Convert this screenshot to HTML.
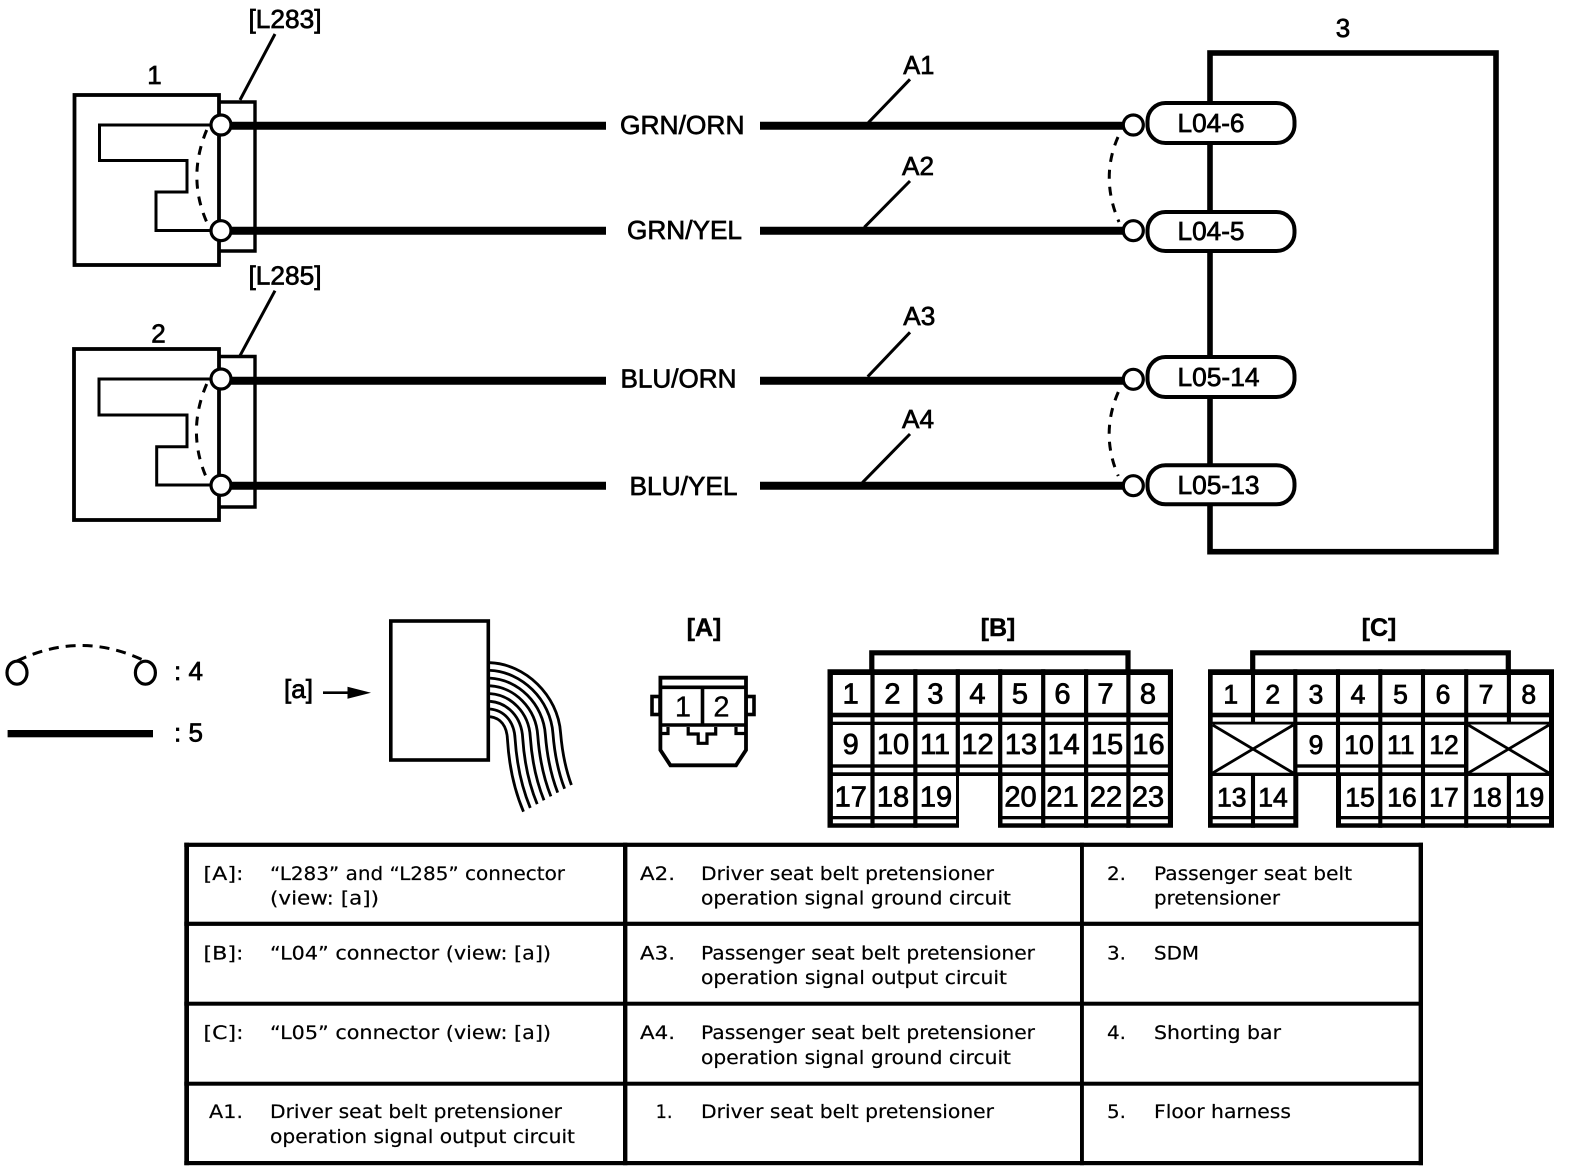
<!DOCTYPE html>
<html><head><meta charset="utf-8"><style>
html,body{margin:0;padding:0;background:#fff}
svg{display:block}
text{font-family:"Liberation Sans",sans-serif;fill:#000}
.l{font-size:26px;stroke:#000;stroke-width:.7px}
.b{font-size:29px;text-anchor:middle;stroke:#000;stroke-width:.8px}
.c{font-size:26.5px;text-anchor:middle;stroke:#000;stroke-width:.8px}
.h{font-size:25px;font-weight:bold;text-anchor:middle;stroke:#000;stroke-width:.4px}
.t{font-family:"DejaVu Sans",sans-serif;font-size:19px;fill:#000;stroke:#000;stroke-width:.2px}
.n{fill:none;stroke:#000}
.w{fill:#fff;stroke:#000}
</style></head><body>
<svg width="1584" height="1170" viewBox="0 0 1584 1170" xmlns="http://www.w3.org/2000/svg">
<rect width="1584" height="1170" fill="#fff"/>

<!-- Component 3 -->
<rect x="1210" y="53" width="286" height="498.7" class="n" stroke-width="5.6"/>

<!-- Component 1 -->
<path d="M220 102H255V251H220" class="n" stroke-width="3.4"/>
<rect x="74.5" y="95" width="144.5" height="170" class="n" stroke-width="3.8"/>
<path d="M212 125H99.5V160.5H187V192H156V230.5H212" class="n" stroke-width="3"/>
<path d="M206.7 130Q187 177 206.7 222" class="n" stroke-width="3" stroke-dasharray="9 8"/>
<path d="M275 34L240 100" class="n" stroke-width="3"/>

<!-- Component 2 -->
<path d="M220 356.5H255V507H220" class="n" stroke-width="3.4"/>
<rect x="74" y="349" width="145" height="171" class="n" stroke-width="3.8"/>
<path d="M212 379H99V415H187V446.7H156.7V485H212" class="n" stroke-width="3"/>
<path d="M206.7 384Q186.5 431 206 476.7" class="n" stroke-width="3" stroke-dasharray="9 8"/>
<path d="M275 290.7L240 355.7" class="n" stroke-width="3"/>

<!-- Thick wires -->
<g class="n" stroke-width="8">
<path d="M221 125.8H606M760 125.8H1125"/>
<path d="M221 230.8H606M760 230.8H1125"/>
<path d="M221 380.7H606M760 380.7H1125"/>
<path d="M221 485.8H606M760 485.8H1125"/>
</g>
<!-- Leaders -->
<g class="n" stroke-width="3">
<path d="M910 79.3L868.3 122.7"/>
<path d="M910 181L864.3 227.3"/>
<path d="M910 332.3L867.7 376.7"/>
<path d="M910 434L862.3 482.7"/>
</g>
<!-- Circles -->
<g class="w" stroke-width="3.2">
<circle cx="221" cy="125" r="10"/><circle cx="221" cy="230.7" r="10"/>
<circle cx="221" cy="379" r="10"/><circle cx="221" cy="485.3" r="10"/>
</g>
<!-- Pills -->
<g class="w" stroke-width="4">
<rect x="1147.5" y="103" width="147" height="40" rx="18"/>
<rect x="1147.5" y="212" width="147" height="39" rx="18"/>
<rect x="1147.5" y="357" width="147" height="40" rx="18"/>
<rect x="1147.5" y="465.3" width="147" height="39" rx="18"/>
</g>
<g class="w" stroke-width="3.2">
<circle cx="1133.3" cy="125" r="10"/><circle cx="1133.3" cy="230.7" r="10"/>
<circle cx="1133.3" cy="379.3" r="10"/><circle cx="1133.3" cy="485.7" r="10"/>
</g>
<g class="n" stroke-width="3" stroke-dasharray="9 8">
<path d="M1118 137Q1100 178 1119 222"/>
<path d="M1118.3 392Q1100 434 1118.3 476"/>
</g>

<!-- Top labels -->
<text class="l" x="248.5" y="28" textLength="73" lengthAdjust="spacingAndGlyphs">[L283]</text>
<text class="l" x="248.5" y="284.3" textLength="73" lengthAdjust="spacingAndGlyphs">[L285]</text>
<text class="l" x="154.5" y="84" text-anchor="middle">1</text>
<text class="l" x="158.5" y="342.3" text-anchor="middle">2</text>
<text class="l" x="1343" y="37" text-anchor="middle">3</text>
<text class="l" x="620" y="134" textLength="124.5" lengthAdjust="spacingAndGlyphs">GRN/ORN</text>
<text class="l" x="627" y="239" textLength="115" lengthAdjust="spacingAndGlyphs">GRN/YEL</text>
<text class="l" x="620.5" y="387.5" textLength="116" lengthAdjust="spacingAndGlyphs">BLU/ORN</text>
<text class="l" x="629.5" y="495" textLength="108" lengthAdjust="spacingAndGlyphs">BLU/YEL</text>
<text class="l" x="903.3" y="74" textLength="31" lengthAdjust="spacingAndGlyphs">A1</text>
<text class="l" x="902" y="175" textLength="32" lengthAdjust="spacingAndGlyphs">A2</text>
<text class="l" x="903.3" y="325" textLength="32" lengthAdjust="spacingAndGlyphs">A3</text>
<text class="l" x="902" y="428" textLength="32" lengthAdjust="spacingAndGlyphs">A4</text>
<text class="l" x="1177.5" y="132" textLength="67" lengthAdjust="spacingAndGlyphs">L04-6</text>
<text class="l" x="1177.5" y="240" textLength="67" lengthAdjust="spacingAndGlyphs">L04-5</text>
<text class="l" x="1177.5" y="386" textLength="82" lengthAdjust="spacingAndGlyphs">L05-14</text>
<text class="l" x="1177.5" y="494" textLength="82" lengthAdjust="spacingAndGlyphs">L05-13</text>

<!-- Legend -->
<ellipse cx="17" cy="672.7" rx="10" ry="11.5" class="n" stroke-width="3.2"/>
<ellipse cx="145.4" cy="672.7" rx="10" ry="11.5" class="n" stroke-width="3.2"/>
<path d="M17 661Q81 630 145 661" class="n" stroke-width="3" stroke-dasharray="10 7"/>
<text class="l" x="174" y="680">: 4</text>
<rect x="7.6" y="730" width="145.4" height="7.3" fill="#000"/>
<text class="l" x="174" y="741.7">: 5</text>

<!-- Connector view -->
<text class="l" x="284" y="698" textLength="29" lengthAdjust="spacingAndGlyphs">[a]</text>
<path d="M323 692.7H350" class="n" stroke-width="2.6"/>
<path d="M347.5 686.7L371 692.7L347.5 698.7Z" fill="#000"/>
<rect x="390.8" y="621" width="97.5" height="139" class="n" stroke-width="3.6"/>
<g class="n" stroke-width="2.8">
<path d="M490 662.7C525 664 558 695 560.6 733Q563 762 571.4 785"/>
<path d="M490 670.4C521.4 671.7 550.7 699.3 553 734Q555.4 764.6 564.6 788.8"/>
<path d="M490 678.1C517.9 679.4 543.4 703.6 545.4 735Q547.9 767.1 557.7 792.6"/>
<path d="M490 685.8C514.3 687.1 536.1 707.9 537.8 736Q540.3 769.7 550.9 796.4"/>
<path d="M490 693.6C510.7 694.9 528.9 712.1 530.3 737Q532.7 772.3 544 800.3"/>
<path d="M490 701.3C507.1 702.6 521.6 716.4 522.7 738Q525.1 774.9 537.2 804.1"/>
<path d="M490 709C503.6 710.3 514.3 720.7 515.1 739Q517.6 777.4 530.3 807.9"/>
<path d="M490 716.7C500 718 507 725 507.5 740Q510 780 523.5 811.7"/>
</g>

<!-- [A] -->
<text class="h" x="704" y="636">[A]</text>
<rect x="652" y="696.5" width="8" height="18" class="w" stroke-width="3.6"/>
<rect x="746" y="696.5" width="8" height="18" class="w" stroke-width="3.6"/>
<path d="M660.4 677.7H746V750L736 765.3H670.4L660.4 750Z" class="w" stroke-width="3.8"/>
<path d="M660 687.3H746M660 725H746M702.5 687V725" class="n" stroke-width="3.6"/>
<path d="M668 727V733.5H661M736 727V733.5H745M688.2 727V734H698.2V743.3H707V734H715.7V727" class="n" stroke-width="3.2"/>
<text class="b" x="683" y="716.7" style="stroke-width:.3px">1</text>
<text class="b" x="721.4" y="716.7" style="stroke-width:.3px">2</text>

<!-- [B] -->
<text class="h" x="998" y="636">[B]</text>
<path d="M871.8 669.5V652.8H1128V669.5" class="n" stroke-width="5.2"/>
<path d="M827.5 669.3H1173V827.7H998V776H959V827.7H827.5Z" fill="#000"/>
<g fill="#fff">
<rect x="832.9" y="675" width="335" height="37.7"/>
<rect x="832.9" y="717.3" width="335" height="4.4"/>
<rect x="832.9" y="725" width="335" height="39.3"/>
<rect x="832.9" y="767.7" width="335" height="4.6"/>
<rect x="832.9" y="776" width="123.1" height="40"/>
<rect x="1002.5" y="776" width="165.4" height="40"/>
<rect x="832.9" y="819.3" width="123.1" height="4"/>
<rect x="1002.5" y="819.3" width="165.4" height="4"/>
</g>
<path d="M872.5 669.3V827.7M915.35 669.3V827.7M957.8 669.3V776M1000.2 669.3V776M1043.2 669.3V827.7M1086.1 669.3V827.7M1128.4 669.3V827.7" class="n" stroke-width="4.2"/>
<text class="b" x="850.7" y="703.3">1</text><text class="b" x="892.5" y="703.3">2</text><text class="b" x="935.4" y="703.3">3</text><text class="b" x="977.5" y="703.3">4</text><text class="b" x="1020" y="703.3">5</text><text class="b" x="1062.5" y="703.3">6</text><text class="b" x="1105.5" y="703.3">7</text><text class="b" x="1148" y="703.3">8</text>
<text class="b" x="850.7" y="754">9</text><text class="b" x="893" y="754">10</text><text class="b" x="935" y="754">11</text><text class="b" x="977.5" y="754">12</text><text class="b" x="1021" y="754">13</text><text class="b" x="1063.5" y="754">14</text><text class="b" x="1107" y="754">15</text><text class="b" x="1148.5" y="754">16</text>
<text class="b" x="850.7" y="806.7">17</text><text class="b" x="893" y="806.7">18</text><text class="b" x="936" y="806.7">19</text><text class="b" x="1020.5" y="806.7">20</text><text class="b" x="1062.5" y="806.7">21</text><text class="b" x="1106" y="806.7">22</text><text class="b" x="1148" y="806.7">23</text>

<!-- [C] -->
<text class="h" x="1379" y="636">[C]</text>
<path d="M1252.7 669.5V652.8H1508.3V669.5" class="n" stroke-width="5.2"/>
<path d="M1208 669.3H1554V827.7H1336V776H1298.3V827.7H1208Z" fill="#000"/>
<g fill="#fff">
<rect x="1212.7" y="675" width="336.3" height="37.7"/>
<rect x="1212.7" y="717.3" width="336.3" height="4.4"/>
<rect x="1212.7" y="724.5" width="80.6" height="48.2"/>
<rect x="1468.3" y="724.5" width="80.7" height="48.2"/>
<rect x="1297.3" y="725" width="166.7" height="39.3"/>
<rect x="1297.3" y="767.7" width="166.7" height="4.6"/>
<rect x="1212.7" y="776" width="80.6" height="40"/>
<rect x="1341" y="776" width="208" height="40"/>
<rect x="1212.7" y="819.3" width="80.6" height="4"/>
<rect x="1341" y="819.3" width="208" height="4"/>
</g>
<path d="M1253 669.3V724M1295.3 669.3V776M1338 669.3V776M1380.3 669.3V827.7M1423 669.3V827.7M1466.2 669.3V827.7M1508.9 669.3V724M1253 776V827.7M1508.9 776V827.7" class="n" stroke-width="4.1"/>
<path d="M1212.7 725L1293.3 773M1293.3 725L1212.7 773M1468.3 725L1549 773M1549 725L1468.3 773" class="n" stroke-width="2.8"/>
<text class="c" x="1230.7" y="703.3">1</text><text class="c" x="1272.7" y="703.3">2</text><text class="c" x="1316" y="703.3">3</text><text class="c" x="1358" y="703.3">4</text><text class="c" x="1400.5" y="703.3">5</text><text class="c" x="1443" y="703.3">6</text><text class="c" x="1486" y="703.3">7</text><text class="c" x="1528.7" y="703.3">8</text>
<text class="c" x="1316" y="754">9</text><text class="c" x="1359" y="754">10</text><text class="c" x="1400.7" y="754">11</text><text class="c" x="1444" y="754">12</text>
<text class="c" x="1231.7" y="806.7">13</text><text class="c" x="1273" y="806.7">14</text><text class="c" x="1360" y="806.7">15</text><text class="c" x="1402" y="806.7">16</text><text class="c" x="1444" y="806.7">17</text><text class="c" x="1487" y="806.7">18</text><text class="c" x="1529.5" y="806.7">19</text>

<!-- Table -->
<g fill="#000">
<rect x="184.3" y="842.7" width="1238.7" height="4.2"/>
<rect x="184.3" y="921.7" width="1238.7" height="4.2"/>
<rect x="184.3" y="1001.7" width="1238.7" height="4"/>
<rect x="184.3" y="1081.7" width="1238.7" height="4"/>
<rect x="184.3" y="1161" width="1238.7" height="4.2"/>
<rect x="184.3" y="842.7" width="4.7" height="322.5"/>
<rect x="623" y="842.7" width="4.4" height="322.5"/>
<rect x="1080" y="842.7" width="3.9" height="322.5"/>
<rect x="1418.6" y="842.7" width="4.4" height="322.5"/>
</g>
<g>
<text class="t" x="203.5" y="880" textLength="40" lengthAdjust="spacingAndGlyphs">[A]:</text>
<text class="t" x="270" y="880" textLength="295" lengthAdjust="spacingAndGlyphs">“L283” and “L285” connector</text>
<text class="t" x="270" y="904.5" textLength="109" lengthAdjust="spacingAndGlyphs">(view: [a])</text>
<text class="t" x="203.5" y="959.3" textLength="40" lengthAdjust="spacingAndGlyphs">[B]:</text>
<text class="t" x="270" y="959.3" textLength="281" lengthAdjust="spacingAndGlyphs">“L04” connector (view: [a])</text>
<text class="t" x="203.5" y="1039" textLength="40" lengthAdjust="spacingAndGlyphs">[C]:</text>
<text class="t" x="270" y="1039" textLength="281" lengthAdjust="spacingAndGlyphs">“L05” connector (view: [a])</text>
<text class="t" x="209" y="1118" textLength="34" lengthAdjust="spacingAndGlyphs">A1.</text>
<text class="t" x="270" y="1118" textLength="292" lengthAdjust="spacingAndGlyphs">Driver seat belt pretensioner</text>
<text class="t" x="270" y="1143" textLength="305" lengthAdjust="spacingAndGlyphs">operation signal output circuit</text>

<text class="t" x="640" y="880" textLength="35" lengthAdjust="spacingAndGlyphs">A2.</text>
<text class="t" x="701" y="880" textLength="293" lengthAdjust="spacingAndGlyphs">Driver seat belt pretensioner</text>
<text class="t" x="701" y="904.5" textLength="310" lengthAdjust="spacingAndGlyphs">operation signal ground circuit</text>
<text class="t" x="640" y="959.3" textLength="35" lengthAdjust="spacingAndGlyphs">A3.</text>
<text class="t" x="701" y="959.3" textLength="334" lengthAdjust="spacingAndGlyphs">Passenger seat belt pretensioner</text>
<text class="t" x="701" y="984" textLength="306" lengthAdjust="spacingAndGlyphs">operation signal output circuit</text>
<text class="t" x="640" y="1039" textLength="35" lengthAdjust="spacingAndGlyphs">A4.</text>
<text class="t" x="701" y="1039" textLength="334" lengthAdjust="spacingAndGlyphs">Passenger seat belt pretensioner</text>
<text class="t" x="701" y="1064" textLength="310" lengthAdjust="spacingAndGlyphs">operation signal ground circuit</text>
<text class="t" x="655.6" y="1118" textLength="17" lengthAdjust="spacingAndGlyphs">1.</text>
<text class="t" x="701" y="1118" textLength="293" lengthAdjust="spacingAndGlyphs">Driver seat belt pretensioner</text>

<text class="t" x="1107" y="880" textLength="19" lengthAdjust="spacingAndGlyphs">2.</text>
<text class="t" x="1154" y="880" textLength="198" lengthAdjust="spacingAndGlyphs">Passenger seat belt</text>
<text class="t" x="1154" y="904.5" textLength="126" lengthAdjust="spacingAndGlyphs">pretensioner</text>
<text class="t" x="1107" y="959.3" textLength="19" lengthAdjust="spacingAndGlyphs">3.</text>
<text class="t" x="1154" y="959.3" textLength="45" lengthAdjust="spacingAndGlyphs">SDM</text>
<text class="t" x="1107" y="1039" textLength="19" lengthAdjust="spacingAndGlyphs">4.</text>
<text class="t" x="1154" y="1039" textLength="127" lengthAdjust="spacingAndGlyphs">Shorting bar</text>
<text class="t" x="1107" y="1118" textLength="19" lengthAdjust="spacingAndGlyphs">5.</text>
<text class="t" x="1154" y="1118" textLength="137" lengthAdjust="spacingAndGlyphs">Floor harness</text>
</g>
</svg>
</body></html>
